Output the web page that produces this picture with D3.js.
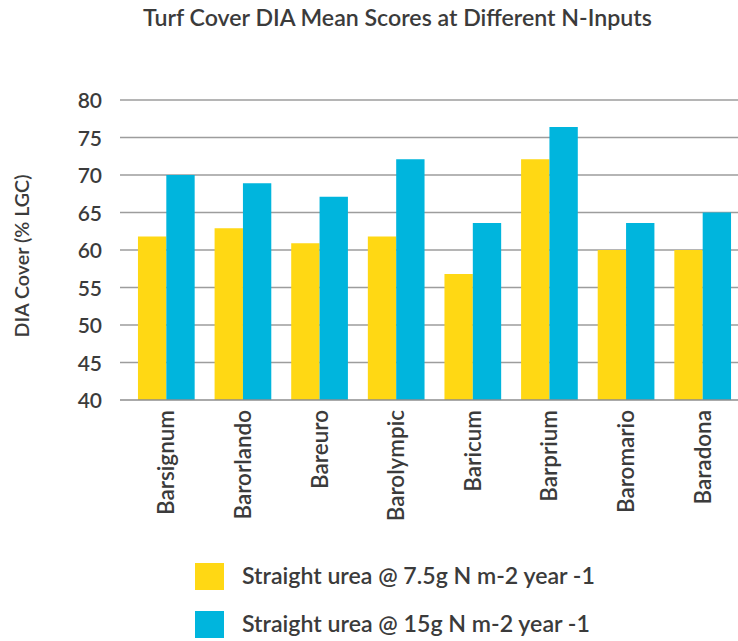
<!DOCTYPE html>
<html>
<head>
<meta charset="utf-8">
<script src="https://cdn.jsdelivr.net/npm/d3@7"></script>
<style>
  html, body { margin: 0; padding: 0; background: #fff; }
  svg { display: block; font-family: Lato, "Open Sans", sans-serif; }
</style>
</head>
<body>
<svg id="chart" width="738" height="641"></svg>
<script>
const title = "Turf Cover DIA Mean Scores at Different N-Inputs";
const yTitle = "DIA Cover (% LGC)";
const categories = ["Barsignum", "Barorlando", "Bareuro", "Barolympic", "Baricum", "Barprium", "Baromario", "Baradona"];
const seriesNames = ["Straight urea @ 7.5g N m-2 year -1", "Straight urea @ 15g N m-2 year -1"];
const lowN = [61.8, 62.9, 60.9, 61.8, 56.8, 72.1, 60.0, 60.0];
const highN = [70.0, 68.9, 67.1, 72.1, 63.6, 76.4, 63.6, 65.0];
const yTicks = [40, 45, 50, 55, 60, 65, 70, 75, 80];
const colors = ["#FFD814", "#00B5DD"];

const series = [lowN, highN];
const svg = d3.select("#chart");
const textColor = "#3b3b3b";

function fitWidth(sel, target) {
  const node = sel.node();
  const fs = parseFloat(sel.attr("font-size"));
  const w = node.getComputedTextLength();
  const nfs = fs * target / w;
  sel.attr("font-size", nfs.toFixed(2));
  return nfs;
}

const x = d3.scaleBand().domain(categories).range([128, 741]).paddingInner(0.26).paddingOuter(0.13);
const x1 = d3.scaleBand().domain([0, 1]).range([0, x.bandwidth()]);
const y = d3.scaleLinear().domain([40, 80]).range([400, 100]);

// Gridlines
svg.append("g").selectAll("line").data(yTicks.slice(1)).join("line")
  .attr("x1", 120).attr("x2", 738)
  .attr("y1", d => y(d)).attr("y2", d => y(d))
  .attr("stroke", "#9d9d9d").attr("stroke-width", 1.3);

// Bars
const groups = svg.append("g").selectAll("g").data(categories).join("g")
  .attr("transform", d => `translate(${x(d)},0)`);
groups.selectAll("rect").data((d, i) => series.map((s, k) => ({k, v: s[i]}))).join("rect")
  .attr("x", d => x1(d.k))
  .attr("width", x1.bandwidth())
  .attr("y", d => y(d.v))
  .attr("height", d => y(40) - y(d.v))
  .attr("fill", d => colors[d.k]);

// Baseline
svg.append("line").attr("x1", 120).attr("x2", 738).attr("y1", y(40)).attr("y2", y(40))
  .attr("stroke", "#8e8e8e").attr("stroke-width", 1.6);

// Y axis labels
const yAxis = d3.axisLeft(y).tickValues(yTicks).tickSize(0).tickPadding(18);
const yg = svg.append("g").attr("transform", "translate(120,0)").call(yAxis);
yg.select(".domain").remove();
yg.selectAll("text").attr("font-size", 21).attr("font-family", "Lato, sans-serif")
  .attr("font-weight", 600).attr("fill", textColor).attr("dy", "0.36em");

// X labels
const xg = svg.append("g");
const xLabels = xg.selectAll("text").data(categories).join("text")
  .attr("transform", c => `translate(${x(c) + x.bandwidth() / 2 + 8},410) rotate(-90)`)
  .attr("text-anchor", "end")
  .attr("font-size", 20).attr("font-weight", 600)
  .attr("fill", textColor).text(c => c);
const xfs = fitWidth(d3.select(xLabels.nodes()[0]), 105);
xLabels.attr("font-size", xfs.toFixed(2));

// Title
const t = svg.append("text").attr("x", 143).attr("y", 26)
  .attr("font-size", 20).attr("font-weight", 600).attr("fill", textColor).text(title);
fitWidth(t, 509);

// Y title
const yt = svg.append("text").attr("transform", "translate(29,256) rotate(-90)")
  .attr("text-anchor", "middle").attr("font-size", 20).attr("font-weight", 600)
  .attr("fill", textColor).text(yTitle);
fitWidth(yt, 163);

// Legend
const leg = svg.append("g");
seriesNames.forEach((name, i) => {
  const yy = 563 + i * 48;
  leg.append("rect").attr("x", 195).attr("y", yy).attr("width", 29).attr("height", 27).attr("fill", colors[i]);
  const lt = leg.append("text").attr("x", 242).attr("y", yy + 21)
    .attr("font-size", 20).attr("font-weight", 600).attr("fill", textColor).text(name);
  fitWidth(lt, i === 0 ? 353 : 348);
});
</script>
</body>
</html>
